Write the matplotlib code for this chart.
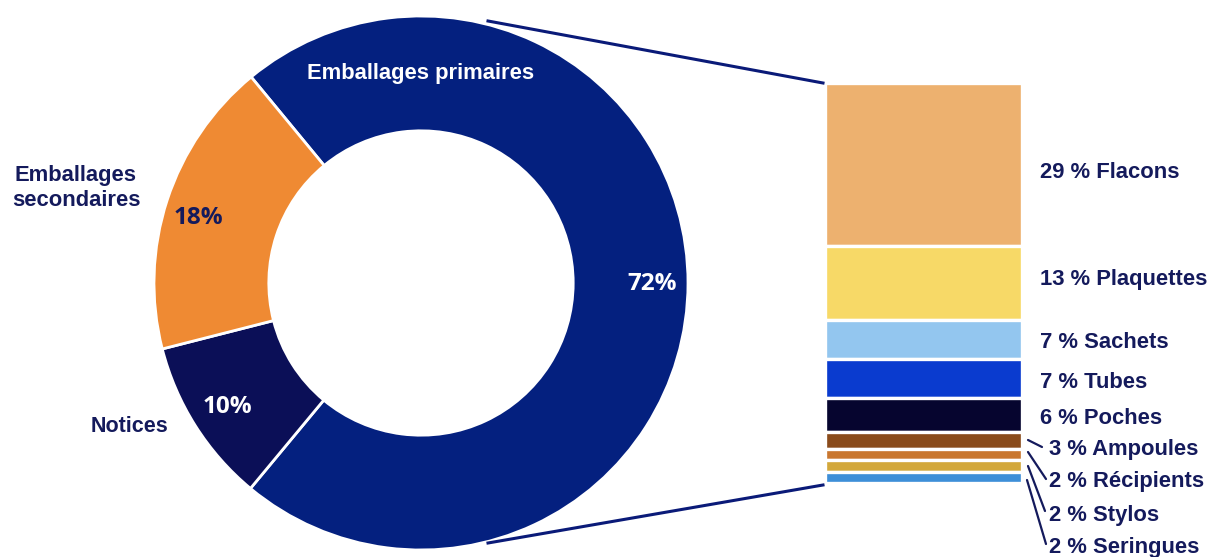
import matplotlib
matplotlib.use("Agg")
import matplotlib.pyplot as plt

# Packaging breakdown (donut) and detail of primary packaging (stacked bar)
donut_labels = ["Emballages primaires", "Notices", "Emballages\nsecondaires"]
donut_values = [72, 10, 18]
donut_pct = ["72%", "10%", "18%"]
donut_colors = ["#04207f", "#0b0f57", "#ef8a33"]

detail_names = ["Flacons", "Plaquettes", "Sachets", "Tubes", "Poches",
                "Ampoules", "Récipients", "Stylos", "Seringues"]
detail_values = [29, 13, 7, 7, 6, 3, 2, 2, 2]
detail_colors = ["#edb16f", "#f7d967", "#93c6ef", "#0a3bcf", "#06052f",
                 "#8a4b1b", "#c9772f", "#d3a83b", "#3e8fd8"]

TEXT = "#141a5c"
FONT = "Liberation Sans"
W, H = 1210, 557
fig = plt.figure(figsize=(W / 100, H / 100), dpi=100)
fig.patch.set_facecolor("white")

# Main axes in pixel units (y measured upward)
ax = fig.add_axes([0, 0, 1, 1])
ax.axis("off")

cx, cy, R = 421, H - 283, 267
ax.pie(donut_values, colors=donut_colors, startangle=129.5,
       counterclock=False, center=(cx, cy), radius=R,
       wedgeprops=dict(width=R * 0.43, edgecolor="white", linewidth=2))
ax.set_xlim(0, W)
ax.set_ylim(0, H)
ax.set_aspect("auto")

ax.text(421, H - 73, donut_labels[0], color="white", fontsize=15.8,
        fontweight="bold", family=FONT, ha="center", va="center")
ax.text(652, H - 284, donut_pct[0], color="white", fontsize=17.5,
        fontweight="bold", family="Open Sans", ha="center", va="center")
ax.text(227, H - 407, donut_pct[1], color="white", fontsize=17.5,
        fontweight="bold", family="Open Sans", ha="center", va="center")
ax.text(198, H - 218, donut_pct[2], color=TEXT, fontsize=17.5,
        fontweight="bold", family="Open Sans", ha="center", va="center")
ax.text(130, H - 427, donut_labels[1], color=TEXT, fontsize=15.5,
        fontweight="bold", family=FONT, ha="center", va="center")
ax.text(76, H - 188, donut_labels[2], color=TEXT, fontsize=15.8,
        fontweight="bold", family=FONT, ha="center", va="center",
        linespacing=1.3)

# Stacked bar for the primary packaging detail
bx0, bx1, by0, by1 = 825, 1022, 83, 483
bax = fig.add_axes([bx0 / W, 1 - by1 / H, (bx1 - bx0) / W, (by1 - by0) / H])
total = sum(detail_values)
bax.set_xlim(0, 1)
bax.set_ylim(total, 0)
bax.axis("off")
bottom = 0
for v, c in zip(detail_values, detail_colors):
    bax.bar(0.5, v, width=1.0, bottom=bottom, color=c,
            edgecolor="white", linewidth=2.4)
    bottom += v

# Labels of the detail segments
label_x = [1040, 1040, 1040, 1040, 1040, 1049, 1049, 1049, 1049]
label_y = [172, 280, 342, 383, 419, 449, 482, 515, 547]
for i, (n, v) in enumerate(zip(detail_names, detail_values)):
    ax.text(label_x[i], H - label_y[i], f"{v} % {n}", color=TEXT,
            fontsize=15.8, fontweight="bold", family=FONT,
            ha="left", va="center")

# Leader lines for the thin segments
small_start = [(1028, 440), (1028, 452), (1028, 466), (1027, 480)]
small_end = [(1042, 447), (1046, 479), (1045, 511), (1046, 544)]
for (x0, y0), (x1, y1) in zip(small_start, small_end):
    ax.plot([x0, x1], [H - y0, H - y1], color=TEXT, lw=1.6,
            solid_capstyle="round")

# Zoom lines from the donut to the bar
ax.plot([488, 823], [H - 21, H - 83], color="#0a1a78", lw=2.2)
ax.plot([488, 823], [H - 543, H - 485], color="#0a1a78", lw=2.2)

fig.savefig("out.png", dpi=100, facecolor="white")
